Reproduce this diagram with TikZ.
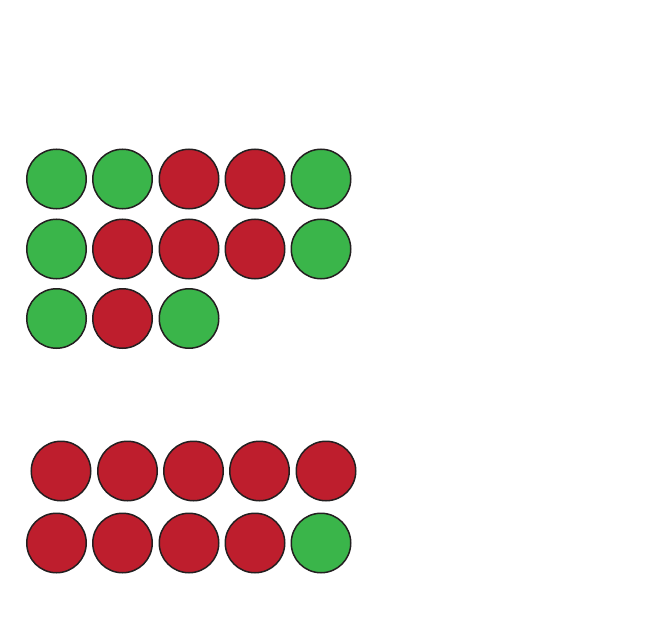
\documentclass[tikz,border=0pt]{standalone}
\usepackage{tikz}
\definecolor{beadgreen}{RGB}{58,181,74}
\definecolor{beadred}{RGB}{190,30,45}
\definecolor{beadline}{RGB}{35,31,32}
\tikzset{
  bead/.style={draw=beadline,circle,line width=1.5pt,minimum size=59.5pt,inner sep=0pt},
  gbead/.style={bead,fill=beadgreen},
  rbead/.style={bead,fill=beadred},
}
\begin{document}
\begin{tikzpicture}[x=1pt,y=-1pt]
  \useasboundingbox (0,0) rectangle (660,628);
  % first group
  \node[gbead] (a11) at (56.5,179) {};
  \node[gbead] (a12) at (122.5,179) {};
  \node[rbead] (a13) at (189,179) {};
  \node[rbead] (a14) at (255,179) {};
  \node[gbead] (a15) at (321,179) {};
  \node[gbead] (a21) at (56.5,249) {};
  \node[rbead] (a22) at (122.5,249) {};
  \node[rbead] (a23) at (189,249) {};
  \node[rbead] (a24) at (255,249) {};
  \node[gbead] (a25) at (321,249) {};
  \node[gbead] (a31) at (56.5,318.5) {};
  \node[rbead] (a32) at (122.5,318.5) {};
  \node[gbead] (a33) at (189,318.5) {};
  % second group
  \node[rbead] (b11) at (61,471) {};
  \node[rbead] (b12) at (127.5,471) {};
  \node[rbead] (b13) at (193.5,471) {};
  \node[rbead] (b14) at (259.5,471) {};
  \node[rbead] (b15) at (326,471) {};
  \node[rbead] (b21) at (56.5,543) {};
  \node[rbead] (b22) at (122.5,543) {};
  \node[rbead] (b23) at (189,543) {};
  \node[rbead] (b24) at (255,543) {};
  \node[gbead] (b25) at (321,543) {};
\end{tikzpicture}
\end{document}
